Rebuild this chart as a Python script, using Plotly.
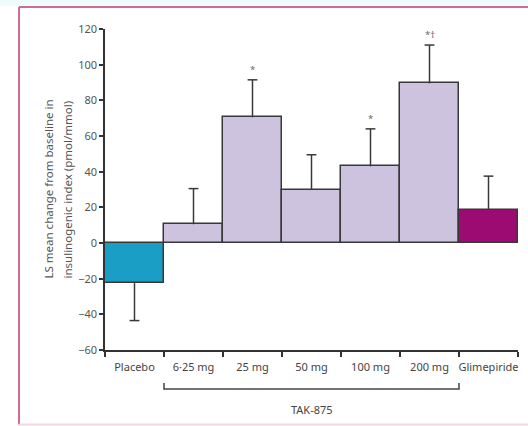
import plotly.graph_objects as go

categories = ["Placebo", "6·25 mg", "25 mg", "50 mg", "100 mg", "200 mg", "Glimepiride"]
means = [-22.5, 10.5, 70.5, 30, 43, 89.5, 18.5]
err_plus = [0, 20, 21, 19.5, 21, 21.5, 19]
err_minus = [21, 0, 0, 0, 0, 0, 0]
sig_labels = ["", "", "*", "", "*", "*†", ""]
bar_colors = ["#1b9ec6", "#cdc3df", "#cdc3df", "#cdc3df", "#cdc3df", "#cdc3df", "#9c0b72"]
y_ticks = [-60, -40, -20, 0, 20, 40, 60, 80, 100, 120]
group_label = "TAK-875"

xs = list(range(len(categories)))
EDGE = "#383838"

fig = go.Figure()
fig.add_trace(go.Bar(
    x=xs, y=means,
    marker=dict(color=bar_colors, line=dict(color=EDGE, width=1.5)),
    width=1.0,
    showlegend=False,
))

# error whiskers: cap marker at the whisker tip, stem back to the bar end (no cap at the bar)
tips = [m + p - n for m, p, n in zip(means, err_plus, err_minus)]
stem_down = err_plus
stem_up = err_minus
fig.add_trace(go.Scatter(
    x=xs, y=tips, mode="markers",
    marker=dict(symbol="line-ew", size=7, line=dict(color=EDGE, width=1.5)),
    error_y=dict(type="data", symmetric=False, array=stem_up, arrayminus=stem_down,
                 color=EDGE, thickness=1.5, width=0),
    showlegend=False, cliponaxis=False,
))

FONT = "Noto Sans"
annotations = []
for i, lab in enumerate(sig_labels):
    if lab:
        annotations.append(dict(x=xs[i], y=means[i] + err_plus[i], xref="x", yref="y",
                                text=lab, showarrow=False, yanchor="bottom", yshift=2,
                                font=dict(size=9.5, color="#666", family=FONT)))

# y-axis title (two lines)
annotations.append(dict(x=-0.138, y=0.5, xref="paper", yref="paper", textangle=-90,
                        text="LS mean change from baseline in", showarrow=False,
                        xanchor="center", yanchor="middle",
                        font=dict(size=11.5, color="#555", family=FONT)))
annotations.append(dict(x=-0.092, y=0.5, xref="paper", yref="paper", textangle=-90,
                        text="insulinogenic index (pmol/mmol)", showarrow=False,
                        xanchor="center", yanchor="middle",
                        font=dict(size=11.5, color="#555", family=FONT)))
# group label
annotations.append(dict(x=3.0, y=-0.185, xref="x", yref="paper", text=group_label,
                        showarrow=False, yanchor="middle",
                        font=dict(size=11, color="#444", family=FONT)))

shapes = [
    # bracket under TAK-875 doses
    dict(type="path", xref="x", yref="paper",
         path="M 0.5,-0.103 L 0.5,-0.1215 L 5.5,-0.1215 L 5.5,-0.103",
         line=dict(color="#444", width=1.5)),
    # figure frame
    dict(type="rect", xref="paper", yref="paper", x0=-0.26, x1=1.05, y0=1.072, y1=1.1,
         fillcolor="#eefcfc", line=dict(width=0), layer="below"),
    dict(type="line", xref="paper", yref="paper", x0=-0.2082, x1=1.05, y0=1.0685, y1=1.0685,
         line=dict(color="#cf6e8c", width=2)),
    dict(type="line", xref="paper", yref="paper", x0=-0.2082, x1=-0.2082, y0=-0.232, y1=1.0685,
         line=dict(color="#cf6e8c", width=2)),
    dict(type="line", xref="paper", yref="paper", x0=-0.2082, x1=1.05, y0=-0.232, y1=-0.232,
         line=dict(color="#f4d6df", width=2)),
]

fig.update_layout(
    width=528, height=426,
    margin=dict(l=105, r=10, t=29, b=76),
    paper_bgcolor="white", plot_bgcolor="white",
    bargap=0,
    font=dict(family=FONT, size=10, color="#444"),
    annotations=annotations,
    shapes=shapes,
    xaxis=dict(range=[-0.5, 6.5], tickmode="array", tickvals=xs, ticktext=categories,
               ticks="", showline=True, linecolor="#333", linewidth=1.5,
               showgrid=False, zeroline=False, ticklabelstandoff=6,
               tickfont=dict(size=11, color="#444"),
               minor=dict(ticks="outside", tick0=0.5, dtick=1, ticklen=5,
                          tickcolor="#333", tickwidth=1.5, showgrid=False)),
    yaxis=dict(range=[-60, 120], tickmode="array", tickvals=y_ticks,
               ticks="outside", ticklen=4, tickwidth=1.5, tickcolor="#333",
               showline=True, linecolor="#333", linewidth=1.5,
               showgrid=False, zeroline=False,
               tickfont=dict(size=11, color="#555")),
)

fig.write_html("out.html")
